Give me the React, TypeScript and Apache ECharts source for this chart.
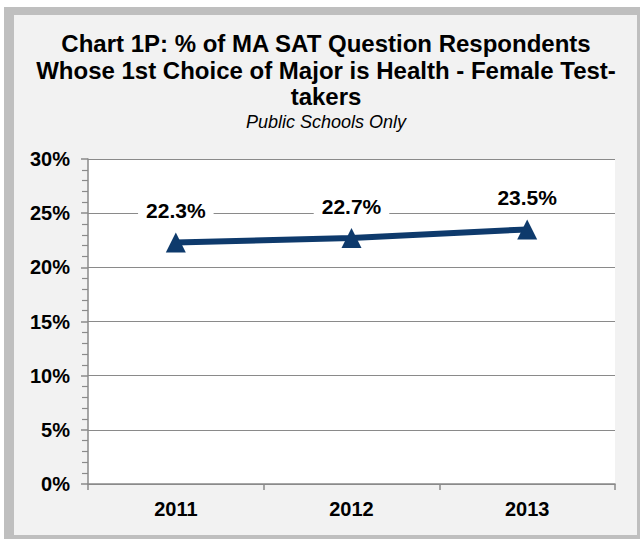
import React, { useEffect, useRef } from "react";
import * as echarts from "echarts";

const categories = ["2011", "2012", "2013"];
const femaleHealthPct = [22.3, 22.7, 23.5];
const yTicks = { min: 0, max: 30, interval: 5 };

const titleLines = [
  "Chart 1P: % of MA SAT Question Respondents",
  "Whose 1st Choice of Major is Health - Female Test-",
  "takers",
];
const subtitleText = "Public Schools Only";

const FONT = "'Liberation Sans', Arial, sans-serif";
const NAVY = "#0e3a6c";
const GRID_GRAY = "#8a8a8a";

export default function App() {
  const ref = useRef<HTMLDivElement>(null);

  useEffect(() => {
    if (!ref.current) return;
    const chart = echarts.init(ref.current, null, { renderer: "svg" });
    const titleY = [43.5, 70, 96.5];
    const titleGraphics = titleLines.map((t, i) => ({
      type: "text",
      x: 326,
      y: titleY[i],
      silent: true,
      style: {
        text: t,
        fontFamily: FONT,
        fontSize: 24,
        fontWeight: "bold",
        fill: "#000000",
        align: "center",
        verticalAlign: "middle",
        textAlign: "center",
        textVerticalAlign: "middle",
      },
    }));
    chart.setOption({
      animation: false,
      backgroundColor: "#ffffff",
      graphic: [
        {
          type: "rect",
          z: -10,
          silent: true,
          shape: { x: 4, y: 7, width: 636, height: 532 },
          style: { fill: "#bfbfbf" },
        },
        {
          type: "rect",
          z: -9,
          silent: true,
          shape: { x: 14, y: 15, width: 623, height: 520 },
          style: { fill: "#f2f2f2" },
        },
        ...titleGraphics,
        {
          type: "text",
          x: 326,
          y: 121.5,
          silent: true,
          style: {
            text: subtitleText,
            fontFamily: FONT,
            fontSize: 18,
            fontStyle: "italic",
            fill: "#000000",
            align: "center",
            verticalAlign: "middle",
            textAlign: "center",
            textVerticalAlign: "middle",
          },
        },
      ],
      grid: {
        left: 88,
        right: 25,
        top: 159,
        bottom: 55,
        show: true,
        backgroundColor: "#ffffff",
        borderWidth: 0,
      },
      xAxis: {
        type: "category",
        data: categories,
        boundaryGap: true,
        axisLine: { show: true, lineStyle: { color: GRID_GRAY, width: 1.5 } },
        axisTick: { show: true, length: 6, lineStyle: { color: GRID_GRAY, width: 1.5 } },
        axisLabel: {
          margin: 15,
          fontFamily: FONT,
          fontSize: 20,
          fontWeight: "bold",
          color: "#000000",
        },
        splitLine: { show: false },
      },
      yAxis: {
        type: "value",
        min: yTicks.min,
        max: yTicks.max,
        interval: yTicks.interval,
        axisLine: { show: true, lineStyle: { color: GRID_GRAY, width: 1.5 } },
        axisTick: { show: true, length: 7, lineStyle: { color: GRID_GRAY, width: 1.5 } },
        minorTick: { show: true, splitNumber: 5, length: 6, lineStyle: { color: GRID_GRAY, width: 1.2 } },
        minorSplitLine: { show: false },
        splitLine: { show: true, lineStyle: { color: GRID_GRAY, width: 1.2 } },
        axisLabel: {
          margin: 18,
          formatter: "{value}%",
          fontFamily: FONT,
          fontSize: 20,
          fontWeight: "bold",
          color: "#000000",
        },
      },
      series: [
        {
          type: "line",
          data: femaleHealthPct,
          symbol: "triangle",
          symbolSize: [20, 20],
          lineStyle: { color: NAVY, width: 6 },
          itemStyle: { color: NAVY },
          label: {
            show: true,
            position: "top",
            distance: 8,
            formatter: (p: any) => Number(p.value).toFixed(1) + "%",
            fontFamily: FONT,
            fontSize: 21,
            fontWeight: "bold",
            color: "#000000",
            backgroundColor: "#ffffff",
            padding: [3, 8, 3, 8],
          },
          z: 5,
        },
      ],
    });
    return () => chart.dispose();
  }, []);

  return (
    <div
      ref={ref}
      style={{ position: "absolute", left: 0, top: 0, width: 640, height: 539 }}
    />
  );
}
